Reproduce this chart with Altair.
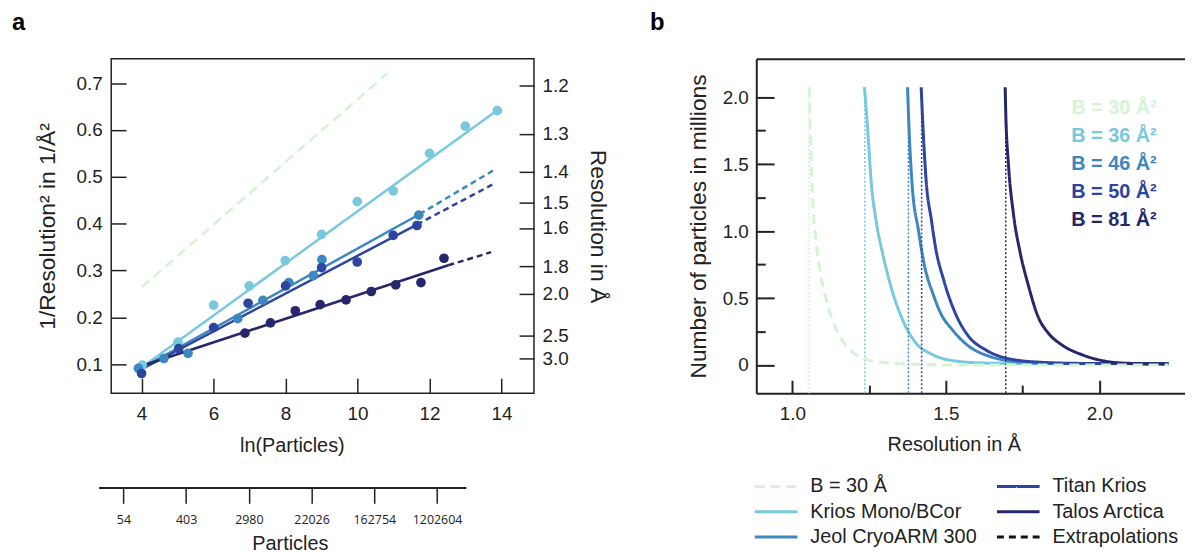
import altair as alt
import pandas as pd

FONT = "Liberation Sans"
INK = "#222222"

# ---------------- shared series / legend ----------------
legend_order = ["B = 30 Å", "Krios Mono/BCor", "Jeol CryoARM 300", "Titan Krios",
                "Talos Arctica", "Extrapolations"]
legend_colors = ["#d3f5d3", "#78c8de", "#3c87bd", "#2d44a0", "#25266b", "#111111"]
legend_dashes = [[10, 6], [1, 0], [1, 0], [1, 0], [1, 0], [7, 5]]

# ---------------- panel a data ----------------
krios_ln = [4.02, 5.01, 6.0, 6.99, 7.99, 9.0, 9.99, 10.99, 12.0, 12.99, 13.88]
krios_inv = [0.098, 0.147, 0.226, 0.267, 0.321, 0.377, 0.447, 0.470, 0.550, 0.608, 0.641]
jeol_ln = [3.91, 4.62, 5.29, 6.67, 7.37, 8.09, 8.77, 9.01, 11.7]
jeol_inv = [0.091, 0.112, 0.123, 0.197, 0.236, 0.274, 0.289, 0.323, 0.418]
titan_ln = [4.0, 5.03, 6.0, 6.96, 8.0, 9.0, 9.99, 10.99, 11.65]
titan_inv = [0.080, 0.133, 0.178, 0.230, 0.267, 0.306, 0.318, 0.375, 0.396]
talos_ln = [6.87, 7.58, 8.27, 8.96, 9.68, 10.38, 11.06, 11.76, 12.4]
talos_inv = [0.166, 0.188, 0.214, 0.227, 0.237, 0.255, 0.269, 0.274, 0.326]

fit_series = ["Krios Mono/BCor", "Jeol CryoARM 300", "Titan Krios", "Talos Arctica"]
fit_ln = [[4.0, 13.9], [3.9, 11.72], [4.0, 11.65], [4.0, 12.52]]
fit_inv = [[0.093, 0.643], [0.087, 0.420], [0.089, 0.398], [0.096, 0.311]]

extrap_series = ["Jeol CryoARM 300", "Titan Krios", "Talos Arctica"]
extrap_ln = [[11.72, 13.76], [11.65, 13.74], [12.52, 13.71]]
extrap_inv = [[0.420, 0.513], [0.398, 0.483], [0.311, 0.339]]

b30_ln = [4.0, 10.83]
b30_inv = [0.264, 0.721]

left_ticks = [0.1, 0.2, 0.3, 0.4, 0.5, 0.6, 0.7]
x_ticks_a = [4, 6, 8, 10, 12, 14]
res_ticks = [1.2, 1.3, 1.4, 1.5, 1.6, 1.8, 2.0, 2.5, 3.0]
particle_ln = [4, 6, 8, 10, 12, 14]
particle_labels = ["54", "403", "2980", "22026", "162754", "1202604"]

# ---------------- panel b data ----------------
b30_res = [1.0549, 1.0603, 1.0657, 1.0765, 1.0916, 1.1131, 1.1433, 1.1864, 1.2403, 1.3373, 1.5313, 2.226]
b30_n = [2.074, 1.624, 1.253, 0.932, 0.685, 0.462, 0.265, 0.116, 0.042, 0.012, 0.0, 0.0]
krios_res = [1.2347, 1.2455, 1.2563, 1.2724, 1.294, 1.3209, 1.3586, 1.4017, 1.4556, 1.531, 1.6388, 1.85, 2.226]
krios_n = [2.074, 1.748, 1.377, 1.080, 0.833, 0.586, 0.339, 0.166, 0.079, 0.030, 0.014, 0.01, 0.01]
jeol_res = [1.375, 1.3803, 1.389, 1.4105, 1.4288, 1.4611, 1.4827, 1.5204, 1.5743, 1.6389, 1.7466, 1.8544, 2.226]
jeol_n = [2.074, 1.748, 1.377, 1.006, 0.759, 0.512, 0.388, 0.265, 0.141, 0.067, 0.022, 0.012, 0.01]
titan_res = [1.4195, 1.426, 1.4357, 1.453, 1.4659, 1.4928, 1.5305, 1.5736, 1.6275, 1.6921, 1.7998, 1.95, 2.226]
titan_n = [2.074, 1.748, 1.377, 1.080, 0.883, 0.635, 0.388, 0.215, 0.116, 0.054, 0.022, 0.012, 0.01]
talos_res = [1.693, 1.6952, 1.7038, 1.72, 1.7415, 1.768, 1.80, 1.833, 1.876, 1.941, 2.016, 2.091, 2.226]
talos_n = [2.074, 1.871, 1.501, 1.130, 0.845, 0.60, 0.363, 0.24, 0.153, 0.079, 0.030, 0.013, 0.008]

asym_series = ["B = 30 Å", "Krios Mono/BCor", "Jeol CryoARM 300", "Titan Krios", "Talos Arctica"]
asym_res = [1.054, 1.236, 1.378, 1.421, 1.695]
asym_top = 2.07

blabel_series = ["B = 30 Å", "Krios Mono/BCor", "Jeol CryoARM 300", "Titan Krios", "Talos Arctica"]
blabel_text = ["B = 30 Å²", "B = 36 Å²", "B = 46 Å²", "B = 50 Å²", "B = 81 Å²"]
blabel_res = [1.9085] * 5
blabel_n = [1.918, 1.709, 1.502, 1.289, 1.079]

# ---------------- tables ----------------
pts = []
for s, xs, ys in [("Krios Mono/BCor", krios_ln, krios_inv), ("Jeol CryoARM 300", jeol_ln, jeol_inv),
                  ("Titan Krios", titan_ln, titan_inv), ("Talos Arctica", talos_ln, talos_inv)]:
    pts += [{"series": s, "ln": a, "inv": b} for a, b in zip(xs, ys)]
df_pts = pd.DataFrame(pts)
df_fit = pd.DataFrame([{"series": s, "ln": a, "inv": b}
                       for s, xs, ys in zip(fit_series, fit_ln, fit_inv) for a, b in zip(xs, ys)])
df_ext = pd.DataFrame([{"series": s, "ln": a, "inv": b}
                       for s, xs, ys in zip(extrap_series, extrap_ln, extrap_inv) for a, b in zip(xs, ys)])
df_b30a = pd.DataFrame({"series": "B = 30 Å", "ln": b30_ln, "inv": b30_inv})
df_right = pd.DataFrame({"inv": [1.0 / (r * r) for r in res_ticks]})
df_part = pd.DataFrame({"ln": particle_ln})

curves = []
for s, xs, ys in [("Krios Mono/BCor", krios_res, krios_n), ("Jeol CryoARM 300", jeol_res, jeol_n),
                  ("Titan Krios", titan_res, titan_n), ("Talos Arctica", talos_res, talos_n)]:
    curves += [{"series": s, "res": a, "n": b} for a, b in zip(xs, ys)]
df_curves = pd.DataFrame(curves)
df_b30b = pd.DataFrame({"series": "B = 30 Å", "res": b30_res, "n": b30_n})
df_asym = pd.DataFrame({"series": asym_series, "res": asym_res, "ylo": -0.21, "yhi": asym_top})
df_blab = pd.DataFrame({"series": blabel_series, "label": blabel_text, "res": blabel_res, "n": blabel_n})

# ---------------- panel a ----------------
xsA = alt.Scale(domain=[3.156, 14.90], nice=False, zero=False)
ysA = alt.Scale(domain=[0.038, 0.752], nice=False, zero=False)
colorA = alt.Color("series:N", scale=alt.Scale(domain=legend_order, range=legend_colors), legend=None)

axA_x = alt.Axis(values=x_ticks_a, orient="bottom", offset=-15, tickSize=15, tickWidth=1.5,
                 domain=False, labelPadding=12, title="ln(Particles)", titlePadding=12, titleX=182)
axA_y = alt.Axis(values=left_ticks, format=".1f", orient="left", offset=-15, tickSize=15, tickWidth=1.5,
                 domain=False, labelPadding=9, title="1/Resolution² in 1/Å²", titleFontSize=23,
                 titlePadding=17)
axA_r = alt.Axis(values=[1.0 / (r * r) for r in res_ticks], labelExpr="format(1/sqrt(datum.value), '.1f')",
                 orient="right", offset=-15, tickSize=15, tickWidth=1.5, domain=False, labelPadding=8,
                 title="Resolution in Å", titleFontSize=23, titlePadding=18)
part_expr = "''"
for v, l in reversed(list(zip(particle_ln, particle_labels))):
    part_expr = f"datum.value == {v} ? '{l}' : " + part_expr
axA_p = alt.Axis(values=particle_ln, labelExpr=part_expr, orient="bottom", offset=95, tickSize=16,
                 tickWidth=1.5, domain=True, domainWidth=2, labelFont="Open Sans", labelFontSize=12.5,
                 labelPadding=10, title="Particles", titlePadding=8, titleX=180)

XA = alt.X("ln:Q", scale=xsA, axis=axA_x)
YA = alt.Y("inv:Q", scale=ysA, axis=axA_y)
a_b30 = alt.Chart(df_b30a).mark_line(strokeDash=[10, 6], strokeWidth=2.5).encode(x=XA, y=YA, color=colorA)
a_fit = alt.Chart(df_fit).mark_line(strokeWidth=2.5).encode(x=XA, y=YA, color=colorA)
a_ext = alt.Chart(df_ext).mark_line(strokeDash=[6, 4], strokeWidth=2.5).encode(x=XA, y=YA, color=colorA)
a_pts = alt.Chart(df_pts).mark_circle(size=95, opacity=1).encode(x=XA, y=YA, color=colorA)
a_main = alt.layer(a_b30, a_fit, a_ext, a_pts)
a_right = alt.Chart(df_right).mark_point(opacity=0).encode(y=alt.Y("inv:Q", scale=ysA, axis=axA_r))
a_inner = alt.layer(a_main, a_right).resolve_axis(y="independent")
a_part = alt.Chart(df_part).mark_point(opacity=0).encode(
    x=alt.X("ln:Q", scale=alt.Scale(domain=[3.209, 14.918], range=[-12.7, 357.3], nice=False, zero=False),
            axis=axA_p))
panelA = alt.layer(a_inner, a_part).resolve_scale(x="independent").resolve_axis(x="independent").properties(
    width=426, height=337,
    view=alt.ViewBackground(stroke=INK, strokeWidth=1.5),
    title=alt.TitleParams("a", anchor="start", frame="group", dx=-100, fontSize=24, fontWeight="bold",
                          font=FONT, color="#000000", baseline="alphabetic", offset=5))

# ---------------- panel b ----------------
xsB = alt.Scale(domain=[0.8823, 2.279], nice=False, zero=False)
ysB = alt.Scale(domain=[-0.210, 2.287], nice=False, zero=False)
cscale = alt.Scale(domain=legend_order, range=legend_colors)
dscale = alt.Scale(domain=legend_order, range=legend_dashes)
leg = alt.Legend(title=None, orient="none", legendX=10, legendY=421, columns=2, symbolType="M-3,0H3",
                 symbolSize=205, symbolStrokeWidth=3, labelFontSize=20, labelFont=FONT,
                 labelColor=INK, labelOffset=24.4, columnPadding=13, rowPadding=5.5, labelLimit=400, padding=0)

bx_major = alt.Axis(values=[1.0, 1.5, 2.0], format=".1f", orient="bottom", offset=-13, tickSize=13, tickWidth=2,
                    domain=False, labelPadding=12, title="Resolution in Å", titlePadding=11, titleX=199)
bx_minor = alt.Axis(values=[1.25, 1.75], orient="bottom", offset=-8, tickSize=8, tickWidth=2, labels=False,
                    domain=False, title=None)
bx_dom = alt.Axis(orient="bottom", ticks=False, labels=False, domain=True, domainWidth=2, title=None)
bx_top = alt.Axis(orient="top", ticks=False, labels=False, domain=True, domainWidth=2, title=None)
by_major = alt.Axis(values=[0, 0.5, 1.0, 1.5, 2.0], labelExpr="datum.value == 0 ? '0' : format(datum.value, '.1f')",
                    orient="left", offset=-18, tickSize=18, tickWidth=2, domain=False, labelPadding=8,
                    title="Number of particles in millions", titleFontSize=23, titlePadding=12)
by_minor = alt.Axis(values=[0.25, 0.75, 1.25, 1.75], orient="left", offset=-9, tickSize=9, tickWidth=2,
                    labels=False, domain=False, title=None)
by_dom = alt.Axis(orient="left", ticks=False, labels=False, domain=True, domainWidth=2, title=None)

b_curves = alt.Chart(df_curves).mark_line(strokeWidth=3, interpolate="monotone").encode(
    x=alt.X("res:Q", scale=xsB, axis=bx_major), y=alt.Y("n:Q", scale=ysB, axis=by_major),
    color=alt.Color("series:N", scale=cscale, legend=leg),
    strokeDash=alt.StrokeDash("series:N", scale=dscale, legend=leg))
b_rules = alt.Chart(df_asym).mark_rule(strokeDash=[2, 2], strokeWidth=1.5).encode(
    x=alt.X("res:Q", scale=xsB, axis=bx_minor), y=alt.Y("ylo:Q", scale=ysB, axis=by_minor), y2="yhi:Q",
    color=alt.Color("series:N", scale=cscale, legend=None))
b_text = alt.Chart(df_blab).mark_text(align="left", baseline="middle", fontSize=20, fontWeight="bold",
                                      font=FONT).encode(
    x=alt.X("res:Q", scale=xsB, axis=bx_dom), y=alt.Y("n:Q", scale=ysB, axis=by_dom), text="label:N",
    color=alt.Color("series:N", scale=cscale, legend=None))
b_b30 = alt.Chart(df_b30b).mark_line(strokeWidth=3, interpolate="monotone").encode(
    x=alt.X("res:Q", scale=xsB, axis=bx_top), y=alt.Y("n:Q", scale=ysB, axis=None),
    color=alt.Color("series:N", scale=cscale, legend=None),
    strokeDash=alt.StrokeDash("series:N", scale=dscale, legend=None))
panelB = alt.layer(b_curves, b_rules, b_text, b_b30).resolve_axis(x="independent", y="independent").properties(
    width=432, height=337,
    title=alt.TitleParams("b", anchor="start", frame="group", dx=-107, fontSize=24, fontWeight="bold",
                          font=FONT, color="#000000", baseline="alphabetic", offset=5))

chart = alt.hconcat(panelA, panelB, spacing=224, bounds="flush").resolve_scale(
    color="independent", strokeDash="independent").properties(
    padding={"left": 3, "top": 0, "right": 0, "bottom": 0}
).configure(font=FONT).configure_view(stroke=None).configure_axis(
    grid=False, labelFont=FONT, titleFont=FONT, labelColor=INK, titleColor=INK, tickColor=INK,
    domainColor=INK, labelFontSize=19, titleFontSize=20, titleFontWeight="normal",
    labelOverlap=False, labelFlush=False)

chart.save("out.html", embed_options={"renderer": "svg", "actions": False})
